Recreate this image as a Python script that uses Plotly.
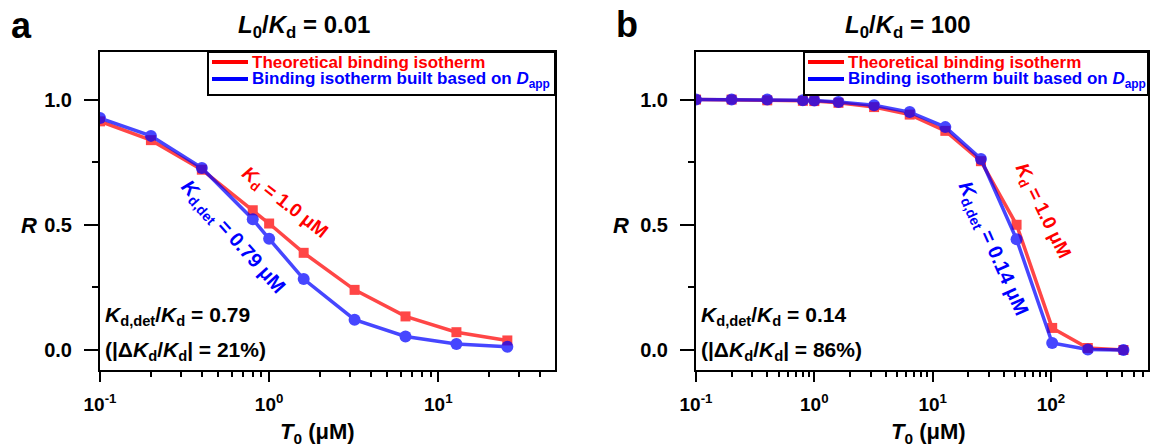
import plotly.graph_objects as go

W, H = 1151, 446

# ---------------- data ----------------
T0_a = [0.1, 0.2, 0.4, 0.8, 1.0, 1.6, 3.2, 6.4, 12.8, 25.6]
R_theory_a = [0.913, 0.838, 0.720, 0.558, 0.505, 0.388, 0.240, 0.134, 0.071, 0.038]
R_dapp_a = [0.926, 0.855, 0.727, 0.522, 0.444, 0.283, 0.121, 0.054, 0.024, 0.013]

T0_b = [0.1, 0.2, 0.4, 0.8, 1.0, 1.6, 3.2, 6.4, 12.8, 25.6, 51.2, 102.4, 204.8, 409.6]
R_theory_b = [1.0, 1.0, 0.997, 0.995, 0.994, 0.987, 0.970, 0.940, 0.875, 0.754, 0.500, 0.088, 0.008, 0.0]
R_dapp_b = [1.0, 1.0, 1.0, 0.997, 0.996, 0.990, 0.977, 0.950, 0.890, 0.763, 0.442, 0.028, 0.002, 0.0]

x_tickvals_a = [0.1, 1, 10]
x_ticktext_a = ["10<sup>-1</sup>", "10<sup>0</sup>", "10<sup>1</sup>"]
x_tickvals_b = [0.1, 1, 10, 100]
x_ticktext_b = ["10<sup>-1</sup>", "10<sup>0</sup>", "10<sup>1</sup>", "10<sup>2</sup>"]
y_tickvals = [0.0, 0.5, 1.0]
y_ticktext = ["0.0", "0.5", "1.0"]
y_minor = [0.25, 0.75]

name_theory = "Theoretical binding isotherm"
name_dapp = "Binding isotherm built based on <i>D</i><sub>app</sub>"

FONT = "Liberation Sans, Arial, sans-serif"
RED = "#ff0000"
BLUE = "#0000ff"


def px(x):
    return x / W


def py(y):
    return 1 - y / H


def minor_log(lo, hi):
    vals = []
    for e in range(lo, hi):
        for m in range(2, 10):
            vals.append(m * 10 ** e)
    return vals


fig = go.Figure()

panels = [
    dict(xa="x", ya="y", T=T0_a, rt=R_theory_a, rd=R_dapp_a),
    dict(xa="x2", ya="y2", T=T0_b, rt=R_theory_b, rd=R_dapp_b),
]
for p in panels:
    fig.add_trace(go.Scatter(
        x=p["T"], y=p["rt"], mode="lines+markers", xaxis=p["xa"], yaxis=p["ya"],
        line=dict(color=RED, width=3.5), opacity=0.72, name=name_theory,
        marker=dict(symbol="square", size=10, color=RED),
        showlegend=False))
    fig.add_trace(go.Scatter(
        x=p["T"], y=p["rd"], mode="lines+markers", xaxis=p["xa"], yaxis=p["ya"],
        line=dict(color=BLUE, width=3.5), opacity=0.72, name=name_dapp,
        marker=dict(symbol="circle", size=12, color=BLUE),
        showlegend=False))

xtickfont = dict(family=FONT, size=19, color="black", weight="bold")
ytickfont = dict(family=FONT, size=20, color="black", weight="bold")

common_x = dict(
    type="log", showline=True, mirror=True, linewidth=2, linecolor="black",
    ticks="outside", ticklen=10, tickwidth=2, tickcolor="black",
    showgrid=False, zeroline=False, tickfont=xtickfont, tickmode="array",
    ticklabelstandoff=6, automargin=False,
)
common_y = dict(
    range=[-0.08, 1.19], showline=True, mirror=True, linewidth=2, linecolor="black",
    ticks="outside", ticklen=14, tickwidth=2, tickcolor="black",
    showgrid=False, zeroline=False, tickfont=ytickfont,
    tickmode="array", tickvals=y_tickvals, ticktext=y_ticktext,
    minor=dict(tickmode="array", tickvals=y_minor, ticks="outside", ticklen=6,
               tickwidth=2, tickcolor="black", showgrid=False),
    ticklabelstandoff=8, automargin=False,
)

ydom = [py(370), py(52)]
fig.update_layout(
    width=W, height=H,
    margin=dict(l=0, r=0, t=0, b=0),
    paper_bgcolor="white", plot_bgcolor="white",
    font=dict(family=FONT, color="black"),
    showlegend=False,
    xaxis=dict(common_x, domain=[px(100), px(555)], range=[-1, 1.69],
               tickvals=x_tickvals_a, ticktext=x_ticktext_a, anchor="y",
               minor=dict(tickmode="array", tickvals=minor_log(-1, 2), ticks="outside",
                          ticklen=5, tickwidth=2, tickcolor="black", showgrid=False)),
    yaxis=dict(common_y, domain=ydom, anchor="x"),
    xaxis2=dict(common_x, domain=[px(696), px(1148)], range=[-1, 2.82],
                tickvals=x_tickvals_b, ticktext=x_ticktext_b, anchor="y2",
                minor=dict(tickmode="array", tickvals=minor_log(-1, 3), ticks="outside",
                           ticklen=5, tickwidth=2, tickcolor="black", showgrid=False)),
    yaxis2=dict(common_y, domain=ydom, anchor="x2"),
)


def ann(text, x, y, size, color="black", angle=0, xanchor="center", yanchor="middle"):
    fig.add_annotation(text=text, x=px(x), y=py(y), xref="paper", yref="paper",
                       showarrow=False, textangle=angle, xanchor=xanchor, yanchor=yanchor,
                       borderpad=0, borderwidth=0,
                       font=dict(family=FONT, size=size, color=color, weight="bold"))


# legends (box, line samples, coloured labels)
for left, right in [(208, 555), (804, 1148)]:
    fig.add_shape(type="rect", xref="paper", yref="paper",
                  x0=px(left), x1=px(right), y0=py(95), y1=py(52),
                  line=dict(color="black", width=2), fillcolor="white", layer="above")
    for yy, col, txt in [(62, RED, name_theory), (79, BLUE, name_dapp)]:
        fig.add_shape(type="line", xref="paper", yref="paper",
                      x0=px(left + 4), x1=px(left + 40), y0=py(yy), y1=py(yy),
                      line=dict(color=col, width=4), layer="above")
        ann(txt, left + 44, yy + 1, 17, color=col, xanchor="left")

# panel letters
ann("a", 11, 26, 36, xanchor="left")
ann("b", 616, 24, 36, xanchor="left")
# titles
ann("<i>L</i><sub>0</sub>/<i>K</i><sub>d</sub> = 0.01", 238, 27, 24, xanchor="left")
ann("<i>L</i><sub>0</sub>/<i>K</i><sub>d</sub> = 100", 845, 27, 24, xanchor="left")
# y titles
ann("<i>R</i>", 29, 225, 22)
ann("<i>R</i>", 621, 225, 22)
# x titles
ann("<i>T</i><sub>0</sub> (μM)", 317, 433, 22)
ann("<i>T</i><sub>0</sub> (μM)", 928, 433, 22)
# ratio annotations
ann("<i>K</i><sub>d,det</sub>/<i>K</i><sub>d</sub> = 0.79", 105, 316, 21, xanchor="left")
ann("(|Δ<i>K</i><sub>d</sub>/<i>K</i><sub>d</sub>| = 21%)", 105, 351, 21, xanchor="left")
ann("<i>K</i><sub>d,det</sub>/<i>K</i><sub>d</sub> = 0.14", 701, 316, 21, xanchor="left")
ann("(|Δ<i>K</i><sub>d</sub>/<i>K</i><sub>d</sub>| = 86%)", 701, 351, 21, xanchor="left")
# rotated curve labels
ann("<i>K</i><sub>d</sub> = 1.0 μM", 284, 203, 19, color=RED, angle=38)
ann("<i>K</i><sub>d,det</sub> = 0.79 μM", 233, 237, 20, color=BLUE, angle=48)
ann("<i>K</i><sub>d</sub> = 1.0 μM", 1042, 211, 19, color=RED, angle=64)
ann("<i>K</i><sub>d,det</sub> = 0.14 μM", 992, 249, 20, color=BLUE, angle=66)

fig.write_html("out.html")
